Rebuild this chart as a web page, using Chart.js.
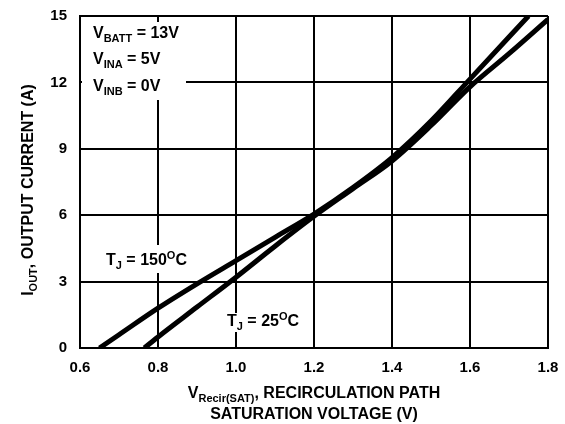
<!DOCTYPE html>
<html>
<head>
<meta charset="utf-8">
<script src="https://cdn.jsdelivr.net/npm/chart.js@4/dist/chart.umd.min.js"></script>
<style>
  html, body { margin: 0; padding: 0; background: #fff; }
  #wrap { width: 565px; height: 424px; }
</style>
</head>
<body>
<div id="wrap"><canvas id="c"></canvas></div>
<script>
// curve readings (V, A)
const hotV   = [0.65, 0.7, 0.8, 0.9, 1.0, 1.1, 1.2, 1.3, 1.4, 1.5, 1.6, 1.7, 1.75]
const hotI   = [0, 0.6, 1.8, 2.9, 3.95, 5.0, 6.05, 7.25, 8.6, 10.25, 12.15, 14.05, 15]
const coldV  = [0.765, 0.8, 0.9, 1.0, 1.1, 1.2, 1.3, 1.4, 1.5, 1.6, 1.7, 1.8]
const coldI  = [0, 0.5, 1.85, 3.2, 4.6, 5.95, 7.2, 8.45, 10.05, 11.8, 13.3, 14.85]
const xTicks = [0.6, 0.8, 1.0, 1.2, 1.4, 1.6, 1.8]
const yTicks = [0, 3, 6, 9, 12, 15]

const FAMILY = '"Liberation Sans", Arial, sans-serif'
const FONT = 'bold 16px ' + FAMILY
const SMALL = 'bold 11px ' + FAMILY

// text made of parts: {t, s:'sub'|'sup'}
function richWidth(ctx, parts) {
  let w = 0
  parts.forEach(p => {
    ctx.font = p.s ? SMALL : FONT
    w += ctx.measureText(p.t).width
  })
  return w
}
function drawRich(ctx, parts, x, y, align) {
  let w = richWidth(ctx, parts)
  let cx = align === 'center' ? x - w / 2 : x
  parts.forEach(p => {
    ctx.font = p.s ? SMALL : FONT
    let dy = p.s === 'sub' ? 4 : p.s === 'sup' ? -6 : 0
    ctx.fillText(p.t, cx, y + dy)
    cx += ctx.measureText(p.t).width
  })
  return w
}

const labels = {
  id: 'labels',
  afterDraw(chart) {
    const ctx = chart.ctx
    const xs = chart.scales.x, ys = chart.scales.y
    ctx.save()
    ctx.textBaseline = 'alphabetic'

    // conditions block, white box over the grid
    ctx.fillStyle = '#fff'
    ctx.fillRect(xs.left + 2, 22, 104, 78)
    ctx.fillStyle = '#000'
    drawRich(ctx, [{t: 'V'}, {t: 'BATT', s: 'sub'}, {t: ' = 13V'}], 93, 38)
    drawRich(ctx, [{t: 'V'}, {t: 'INA', s: 'sub'}, {t: ' = 5V'}], 93, 64)
    drawRich(ctx, [{t: 'V'}, {t: 'INB', s: 'sub'}, {t: ' = 0V'}], 93, 91)

    // curve labels
    const hot = [{t: 'T'}, {t: 'J', s: 'sub'}, {t: ' = 150'}, {t: 'O', s: 'sup'}, {t: 'C'}]
    const cold = [{t: 'T'}, {t: 'J', s: 'sub'}, {t: ' = 25'}, {t: 'O', s: 'sup'}, {t: 'C'}]
    let w = richWidth(ctx, hot)
    ctx.fillStyle = '#fff'
    ctx.fillRect(103, 245, w + 6, 28)
    ctx.fillStyle = '#000'
    drawRich(ctx, hot, 106, 265)
    w = richWidth(ctx, cold)
    ctx.fillStyle = '#fff'
    ctx.fillRect(224, 313, w + 6, 19)
    ctx.fillStyle = '#000'
    drawRich(ctx, cold, 227, 326)

    // axis titles
    const midX = (xs.left + xs.right) / 2
    drawRich(ctx, [{t: 'V'}, {t: 'Recir(SAT)', s: 'sub'}, {t: ', RECIRCULATION PATH'}], midX, 398, 'center')
    drawRich(ctx, [{t: 'SATURATION VOLTAGE (V)'}], midX, 419, 'center')

    ctx.translate(33, 190)
    ctx.rotate(-Math.PI / 2)
    drawRich(ctx, [{t: 'I'}, {t: 'OUT', s: 'sub'}, {t: ', OUTPUT CURRENT (A)'}], 0, 0, 'center')
    ctx.restore()
  }
}

const toPts = (xv, yv) => xv.map((v, i) => ({x: v, y: yv[i]}))

new Chart(document.getElementById('c'), {
  type: 'line',
  data: {
    datasets: [{
      label: 'TJ = 150C',
      data: toPts(hotV, hotI),
      borderColor: '#000',
      borderWidth: 5,
      pointRadius: 0,
      cubicInterpolationMode: 'monotone'
    }, {
      label: 'TJ = 25C',
      data: toPts(coldV, coldI),
      borderColor: '#000',
      borderWidth: 5,
      pointRadius: 0,
      cubicInterpolationMode: 'monotone'
    }]
  },
  options: {
    responsive: true,
    maintainAspectRatio: false,
    animation: false,
    layout: { padding: { top: 16, right: 17, left: 0, bottom: 0 } },
    plugins: { legend: { display: false }, tooltip: { enabled: false } },
    scales: {
      x: {
        type: 'linear',
        min: 0.6, max: 1.8,
        afterBuildTicks: s => { s.ticks = xTicks.map(v => ({value: v})) },
        afterFit: s => { s.height = 76; s.paddingLeft = 0; s.paddingRight = 0 },
        grid: { color: '#000', lineWidth: 2, drawTicks: false },
        border: { color: '#000', width: 2 },
        ticks: {
          padding: 11,
          color: '#000',
          font: { family: FAMILY, size: 15, weight: 'bold' },
          callback: v => v.toFixed(1)
        }
      },
      y: {
        min: 0, max: 15,
        afterBuildTicks: s => { s.ticks = yTicks.map(v => ({value: v})) },
        afterFit: s => { s.width = 80; s.paddingTop = 0; s.paddingBottom = 0 },
        grid: { color: '#000', lineWidth: 2, drawTicks: false },
        border: { color: '#000', width: 2 },
        ticks: {
          padding: 13,
          color: '#000',
          font: { family: FAMILY, size: 15, weight: 'bold' }
        }
      }
    }
  },
  plugins: [labels]
})
</script>
</body>
</html>
